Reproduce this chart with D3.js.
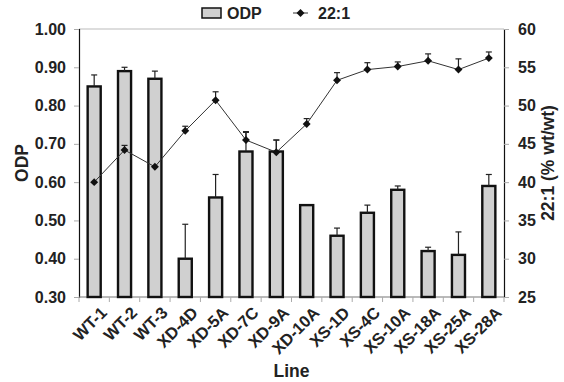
<!DOCTYPE html>
<html>
<head>
<meta charset="utf-8">
<script src="https://cdn.jsdelivr.net/npm/d3@7"></script>
<style>
body { margin: 0; background: #fff; }
text { font-family: "Liberation Sans", Arial, sans-serif; font-weight: bold; fill: #222; }
</style>
</head>
<body>
<svg width="564" height="382"></svg>
<script>
// data
var lines = ["WT-1","WT-2","WT-3","XD-4D","XD-5A","XD-7C","XD-9A","XD-10A","XS-1D","XS-4C","XS-10A","XS-18A","XS-25A","XS-28A"];
var odp = [0.85,0.89,0.87,0.40,0.56,0.68,0.68,0.54,0.46,0.52,0.58,0.42,0.41,0.59];
var odpErr = [0.03,0.01,0.02,0.09,0.06,0.05,0.03,0.0,0.02,0.02,0.01,0.01,0.06,0.03];
var c221 = [40.0,44.2,42.0,46.7,50.7,45.5,43.9,47.6,53.3,54.7,55.1,55.85,54.7,56.2];
var c221Err = [0,0.6,0,0.6,1.1,1.1,1.6,0.7,1.0,0.9,0.6,0.9,1.4,0.8];
var leftTicks = [0.30,0.40,0.50,0.60,0.70,0.80,0.90,1.00];
var rightTicks = [25,30,35,40,45,50,55,60];

var svg = d3.select("svg");
var pLeft = 79, pRight = 504, pTop = 29, pBottom = 297;

var x = d3.scaleBand().domain(lines).range([pLeft, pRight]).paddingInner(0.57).paddingOuter(0.285);
var yL = d3.scaleLinear().domain([0.3, 1.0]).range([pBottom, pTop]);
var yR = d3.scaleLinear().domain([25, 60]).range([pBottom, pTop]);
var band = (pRight - pLeft) / lines.length;
function cx(d) { return x(d) + x.bandwidth() / 2; }

// top border
svg.append("line").attr("x1", pLeft).attr("x2", pRight).attr("y1", pTop).attr("y2", pTop)
  .attr("stroke", "#bbb").attr("stroke-width", 1);

// left axis
var gl = svg.append("g").attr("transform", "translate(" + pLeft + ",0)")
  .call(d3.axisLeft(yL).tickValues(leftTicks).tickSize(5).tickPadding(8).tickFormat(d3.format(".2f")));
gl.select(".domain").attr("stroke", "#111").attr("stroke-width", 1.2);
gl.selectAll(".tick line").attr("stroke", "#aaa");
gl.selectAll(".tick text").attr("font-size", "16px").attr("fill", "#222");

// right axis
var gr = svg.append("g").attr("transform", "translate(" + pRight + ",0)")
  .call(d3.axisRight(yR).tickValues(rightTicks).tickSize(5).tickPadding(9));
gr.select(".domain").attr("stroke", "#111").attr("stroke-width", 1.2);
gr.selectAll(".tick line").attr("stroke", "#aaa");
gr.selectAll(".tick text").attr("font-size", "16px").attr("fill", "#222");

// bottom axis: ticks between categories
var gb = svg.append("g").attr("transform", "translate(0," + pBottom + ")");
gb.append("line").attr("x1", pLeft).attr("x2", pRight).attr("stroke", "#777").attr("stroke-width", 1.2);
gb.selectAll(".tk").data(d3.range(lines.length + 1)).enter().append("line")
  .attr("x1", function(i) { return pLeft + i * band; })
  .attr("x2", function(i) { return pLeft + i * band; })
  .attr("y1", 0).attr("y2", 5).attr("stroke", "#aaa");
gb.selectAll(".lbl").data(lines).enter().append("text")
  .attr("transform", function(d) { return "translate(" + (cx(d) + 5) + ",8) rotate(-45)"; })
  .attr("text-anchor", "end").attr("dy", "0.75em")
  .attr("font-size", "16.5px")
  .text(function(d) { return d; });

// bars
svg.selectAll(".bar").data(lines).enter().append("rect")
  .attr("x", function(d) { return x(d); })
  .attr("y", function(d, i) { return yL(odp[i]); })
  .attr("width", x.bandwidth())
  .attr("height", function(d, i) { return pBottom - yL(odp[i]); })
  .attr("fill", "#d0d0d0").attr("stroke", "#111").attr("stroke-width", 2.4);

// bar error bars (upper only)
lines.forEach(function(d, i) {
  if (odpErr[i] <= 0) return;
  var y0 = yL(odp[i]), y1 = yL(odp[i] + odpErr[i]);
  svg.append("line").attr("x1", cx(d)).attr("x2", cx(d)).attr("y1", y0).attr("y2", y1).attr("stroke", "#222").attr("stroke-width", 1.2);
  svg.append("line").attr("x1", cx(d) - 3).attr("x2", cx(d) + 3).attr("y1", y1).attr("y2", y1).attr("stroke", "#222").attr("stroke-width", 1.2);
});

// 22:1 line
var line = d3.line().x(function(d) { return cx(d); }).y(function(d, i) { return yR(c221[i]); });
svg.append("path").datum(lines).attr("d", line).attr("fill", "none").attr("stroke", "#333").attr("stroke-width", 1);

lines.forEach(function(d, i) {
  if (c221Err[i] <= 0) return;
  var y0 = yR(c221[i]), y1 = yR(c221[i] + c221Err[i]);
  svg.append("line").attr("x1", cx(d)).attr("x2", cx(d)).attr("y1", y0).attr("y2", y1).attr("stroke", "#222").attr("stroke-width", 1.2);
  svg.append("line").attr("x1", cx(d) - 3).attr("x2", cx(d) + 3).attr("y1", y1).attr("y2", y1).attr("stroke", "#222").attr("stroke-width", 1.2);
});

var diamond = d3.symbol().type(d3.symbolDiamond2).size(40);
svg.selectAll(".pt").data(lines).enter().append("path")
  .attr("d", diamond)
  .attr("transform", function(d, i) { return "translate(" + cx(d) + "," + yR(c221[i]) + ")"; })
  .attr("fill", "#111");

// axis titles
svg.append("text").attr("transform", "translate(22," + ((pTop + pBottom) / 2) + ") rotate(-90)")
  .attr("text-anchor", "middle").attr("dy", "0.35em").attr("font-size", "17.5px").text("ODP");
svg.append("text").attr("transform", "translate(548," + ((pTop + pBottom) / 2) + ") rotate(-90)")
  .attr("text-anchor", "middle").attr("dy", "0.35em").attr("font-size", "17.5px").text("22:1 (% wt/wt)");
svg.append("text").attr("x", (pLeft + pRight) / 2).attr("y", 377)
  .attr("text-anchor", "middle").attr("font-size", "17.5px").text("Line");

// legend
var lg = svg.append("g");
lg.append("rect").attr("x", 202).attr("y", 8).attr("width", 19).attr("height", 10)
  .attr("fill", "#d0d0d0").attr("stroke", "#111").attr("stroke-width", 1.5);
lg.append("text").attr("x", 227).attr("y", 19).attr("font-size", "16px").text("ODP");
lg.append("line").attr("x1", 293).attr("x2", 308).attr("y1", 13).attr("y2", 13).attr("stroke", "#333");
lg.append("path").attr("d", diamond).attr("transform", "translate(300.5,13)").attr("fill", "#111");
lg.append("text").attr("x", 318).attr("y", 19).attr("font-size", "16px").text("22:1");
</script>
</body>
</html>
